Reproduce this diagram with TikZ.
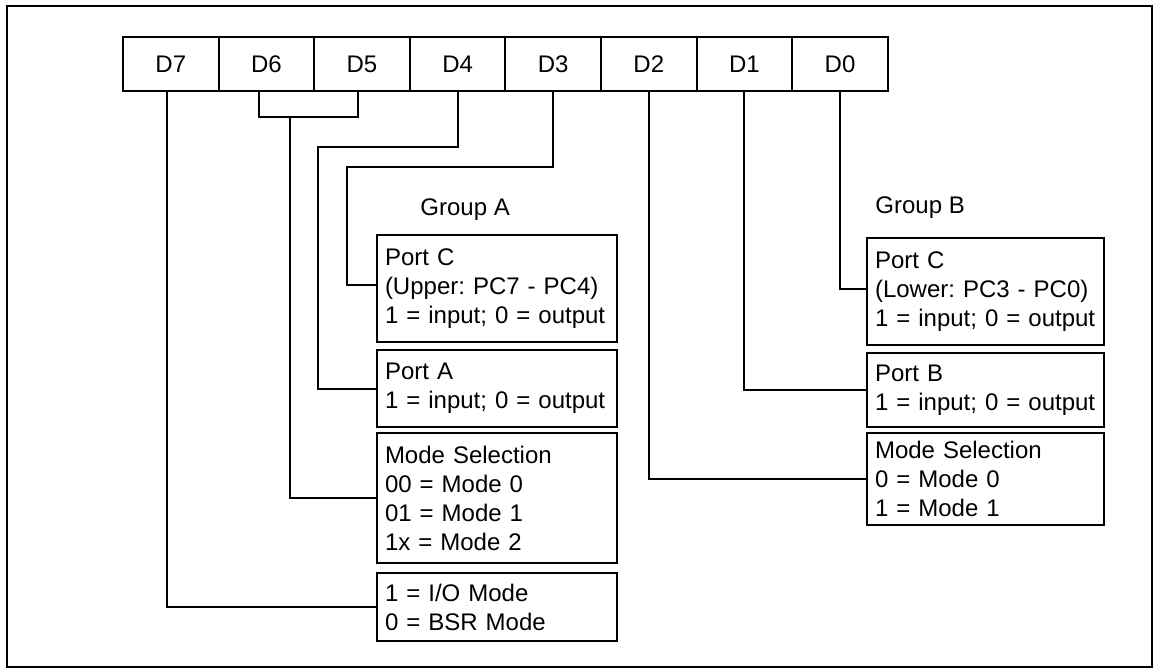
\documentclass[tikz,border=0pt]{standalone}
\usepackage{fontspec}
\setmainfont{Liberation Sans}
\usetikzlibrary{positioning}
\frenchspacing
\hyphenpenalty=10000

\begin{document}
\begin{tikzpicture}[
    x=0.5pt, y=-0.5pt,
    font=\fontsize{12}{14.5}\selectfont,
    node distance=4pt,
    bit/.style={draw, line width=1pt, minimum width=47.8pt, minimum height=27pt,
      inner sep=0pt, outer sep=0pt},
    info/.style={draw, line width=0.9pt, text width=112pt, align=left,
      inner xsep=4pt, inner ysep=3pt, outer sep=0pt},
    wire/.style={line width=1pt}
  ]
    \useasboundingbox (0,0) rectangle (1155,669);
    \draw[line width=1pt] (7,6) rectangle (1152,667);

    \node[bit, anchor=north west] (d7) at (123,37) {D7};
    \node[bit, right=0pt of d7] (d6) {D6};
    \node[bit, right=0pt of d6] (d5) {D5};
    \node[bit, right=0pt of d5] (d4) {D4};
    \node[bit, right=0pt of d4] (d3) {D3};
    \node[bit, right=0pt of d3] (d2) {D2};
    \node[bit, right=0pt of d2] (d1) {D1};
    \node[bit, right=0pt of d1] (d0) {D0};

    \node[anchor=base west, inner sep=0pt] (grpA) at (420,215) {Group A};
    \node[anchor=base west, inner sep=0pt] (grpB) at (875,213) {Group B};

    \node[info, anchor=north west, minimum height=53.5pt] (portCA) at (377,235)
      {Port C\\(Upper: PC7 - PC4)\\1 = input; 0 = output};
    \node[info, below=of portCA, minimum height=38.5pt] (portA) {Port A\\1 = input; 0 = output};
    \node[info, below=3pt of portA, minimum height=65pt] (modeA)
      {Mode Selection\\00 = Mode 0\\01 = Mode 1\\1x = Mode 2};
    \node[info, below=5pt of modeA, minimum height=34pt] (io) {1 = I/O Mode\\0 = BSR Mode};

    \node[info, text width=110.5pt, anchor=north west, minimum height=53.5pt] (portCB) at (867,238)
      {Port C\\(Lower: PC3 - PC0)\\1 = input; 0 = output};
    \node[info, text width=110.5pt, below=of portCB, minimum height=37pt] (portB) {Port B\\1 = input; 0 = output};
    \node[info, text width=110.5pt, below=3pt of portB, minimum height=46pt] (modeB)
      {Mode Selection\\0 = Mode 0\\1 = Mode 1};

    \coordinate (pair) at (290,117);
    \coordinate (a4) at (318,147);
    \coordinate (a3) at (347,167);
    \draw[wire] ([xshift=-2pt]d7.south) |- (io.west);
    \draw[wire] ([xshift=-3.5pt]d6.south) |- (pair) -| ([xshift=-2pt]d5.south);
    \draw[wire] (pair) |- (modeA.west);
    \draw[wire] (d4.south) |- (a4) |- (portA.west);
    \draw[wire] (d3.south) |- (a3) |- ([yshift=2pt]portCA.west);
    \draw[wire] (d2.south) |- (modeB.west);
    \draw[wire] (d1.south) |- (portB.west);
    \draw[wire] (d0.south) |- ([yshift=1.5pt]portCB.west);
  \end{tikzpicture}
\end{document}
